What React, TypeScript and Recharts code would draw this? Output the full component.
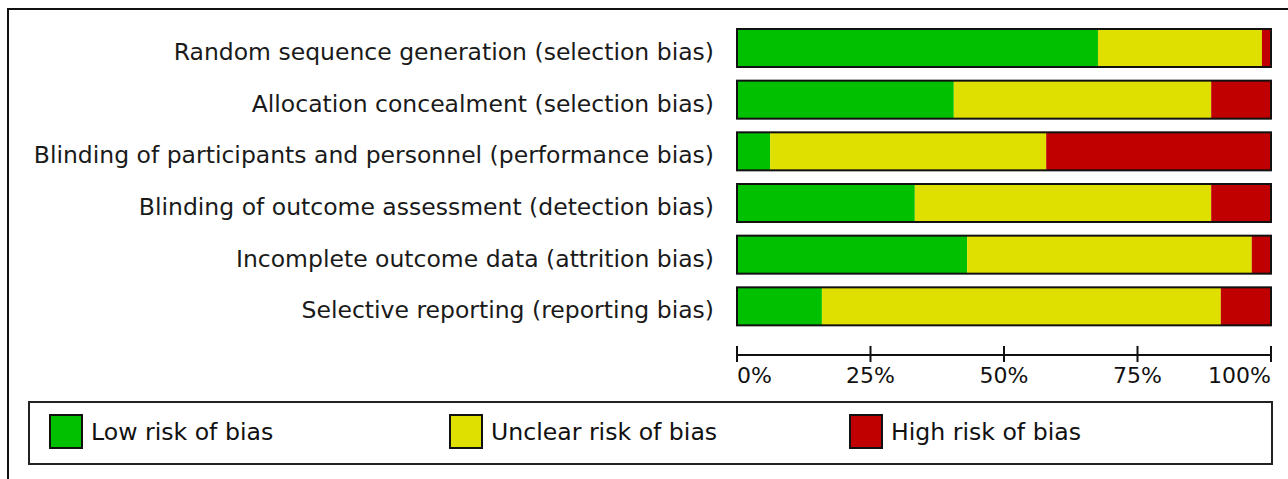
import { BarChart, Bar, XAxis, YAxis, Legend } from "recharts";

const domains = [
  "Random sequence generation (selection bias)",
  "Allocation concealment (selection bias)",
  "Blinding of participants and personnel (performance bias)",
  "Blinding of outcome assessment (detection bias)",
  "Incomplete outcome data (attrition bias)",
  "Selective reporting (reporting bias)",
];
const lowRisk = [67.6, 40.6, 6.2, 33.3, 43.1, 15.9];
const unclearRisk = [30.7, 48.2, 51.7, 55.5, 53.3, 74.7];
const highRisk = [1.7, 11.2, 42.1, 11.2, 3.6, 9.4];
const pctTicks = [0, 25, 50, 75, 100];
const legendOrder = ["Low risk of bias", "Unclear risk of bias", "High risk of bias"];

const data = domains.map((name, i) => ({
  name,
  low: lowRisk[i],
  unclear: unclearRisk[i],
  high: highRisk[i],
}));

const FONT = "'DejaVu Sans', sans-serif";
const GREEN = "#00c000";
const YELLOW = "#e0e000";
const RED = "#c00000";

// last segment also draws the black frame round the whole bar
const OutlinedEnd = (p: any) => {
  const bg = p.background || { x: 737, width: 534 };
  return (
    <g>
      <rect x={p.x} y={p.y} width={Math.max(p.width, 0)} height={p.height} fill={p.fill} />
      <rect x={bg.x} y={p.y} width={bg.width} height={p.height} fill="none" stroke="#111" strokeWidth={2} />
    </g>
  );
};

const DomainTick = ({ x, y, payload }: any) => (
  <text x={x} y={y + 12} textAnchor="end" fill="#1a1a1a" fontSize={23.5} fontFamily={FONT}>
    {payload.value}
  </text>
);

const PctTick = ({ x, y, payload, index }: any) => {
  const anchor = index === 0 ? "start" : index === pctTicks.length - 1 ? "end" : "middle";
  return (
    <g>
      <line x1={x} x2={x} y1={y - 9} y2={y + 7} stroke="#111" strokeWidth={2} />
      <text x={x} y={y + 28} textAnchor={anchor} fill="#111" fontSize={22} fontFamily={FONT}>
        {payload.value}%
      </text>
    </g>
  );
};

const LegendBox = ({ payload }: any) => {
  const items = [...(payload || [])].sort(
    (a: any, b: any) => legendOrder.indexOf(a.value) - legendOrder.indexOf(b.value)
  );
  return (
    <div
      style={{
        boxSizing: "border-box",
        width: "100%",
        height: "100%",
        border: "2px solid #222",
        position: "relative",
        fontFamily: FONT,
        fontSize: 23.6,
        color: "#111",
      }}
    >
      {items.map((item: any, i: number) => (
        <div
          key={item.value}
          style={{ position: "absolute", left: 19 + i * 400, top: 11, display: "flex", alignItems: "center" }}
        >
          <span
            style={{
              display: "inline-block",
              width: 30,
              height: 31,
              background: item.color,
              border: "2px solid #111",
              marginRight: 8,
            }}
          />
          <span>{item.value}</span>
        </div>
      ))}
    </div>
  );
};

export default function App() {
  return (
    <div
      style={{
        position: "absolute",
        left: 0,
        top: 0,
        width: 1288,
        height: 479,
        overflow: "hidden",
        background: "#fff",
      }}
    >
      <div
        style={{
          position: "absolute",
          left: 7,
          top: 8,
          width: 1400,
          height: 600,
          borderLeft: "2px solid #111",
          borderTop: "2px solid #111",
        }}
      />
      <BarChart
        width={1288}
        height={479}
        data={data}
        layout="vertical"
        barSize={38}
        margin={{ top: 22, right: 17, bottom: 84, left: 10 }}
      >
        <XAxis
          type="number"
          domain={[0, 100]}
          ticks={pctTicks}
          height={40}
          tickSize={0}
          tickMargin={0}
          tickLine={false}
          axisLine={{ stroke: "#111", strokeWidth: 2 }}
          tick={<PctTick />}
          interval={0}
        />
        <YAxis
          type="category"
          dataKey="name"
          width={727}
          padding={{ top: 0, bottom: 23 }}
          axisLine={false}
          tickLine={false}
          tickSize={6}
          tickMargin={17}
          interval={0}
          tick={<DomainTick />}
        />
        <Legend
          layout="horizontal"
          verticalAlign="middle"
          align="center"
          content={<LegendBox />}
          wrapperStyle={{ position: "absolute", left: 28, top: 401, width: 1245, height: 64 }}
        />
        <Bar dataKey="low" name="Low risk of bias" stackId="r" fill={GREEN} isAnimationActive={false} />
        <Bar dataKey="unclear" name="Unclear risk of bias" stackId="r" fill={YELLOW} isAnimationActive={false} />
        <Bar
          dataKey="high"
          name="High risk of bias"
          stackId="r"
          fill={RED}
          shape={<OutlinedEnd />}
          isAnimationActive={false}
        />
      </BarChart>
    </div>
  );
}
